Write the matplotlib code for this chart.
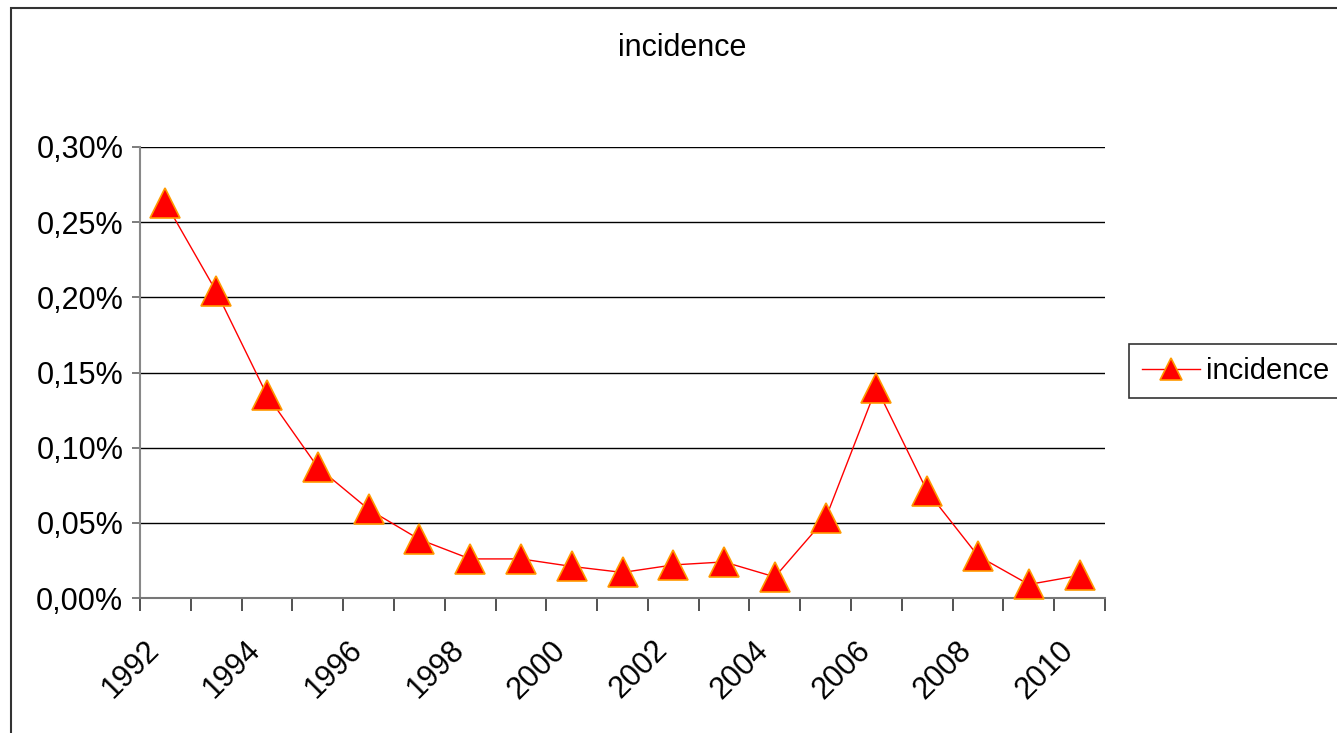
import matplotlib
matplotlib.use("Agg")
import matplotlib.pyplot as plt
from matplotlib.patches import Rectangle

plt.rcParams['font.family'] = ['Liberation Sans', 'DejaVu Sans']

# données (incidence en %)
years = list(range(1992, 2011))
incidence = [0.263, 0.204, 0.135, 0.087, 0.059, 0.039, 0.026, 0.026, 0.021,
             0.017, 0.022, 0.024, 0.014, 0.053, 0.140, 0.071, 0.028, 0.009, 0.015]
yticks = [0.00, 0.05, 0.10, 0.15, 0.20, 0.25, 0.30]

fig = plt.figure(figsize=(13.37, 7.33), dpi=100)
ax = fig.add_axes([140/1337, 1 - 598/733, (1105-140)/1337, (598-147)/733])

x = [i + 0.5 for i in range(len(years))]
ax.plot(x, incidence, color='red', lw=1, marker='^', markersize=21,
        markerfacecolor='red', markeredgecolor='#FF9900', markeredgewidth=1.2,
        label='incidence', zorder=3, clip_on=False)

ax.set_xlim(0, len(years))
ax.set_ylim(0, 0.30)

# axe y
ax.set_yticks(yticks)
ax.set_yticklabels([f"{v:.2f}%".replace('.', ',') for v in yticks], fontsize=22)
ax.yaxis.grid(True, color='black', lw=1)
ax.set_axisbelow(True)

# axe x : graduations entre les catégories, étiquettes une année sur deux
ax.set_xticks(range(len(years) + 1))
ax.set_xticklabels([])
ax.set_xticks([x[i] for i in range(0, len(years), 2)], minor=True)
ax.set_xticklabels([str(years[i]) for i in range(0, len(years), 2)], minor=True,
                   rotation=45, ha='right', va='bottom', rotation_mode='anchor',
                   fontsize=22)
ax.tick_params(axis='x', which='minor', length=0, pad=42)
ax.tick_params(axis='x', which='major', length=9, width=1.2, color='#333333')
ax.tick_params(axis='y', length=6, width=1.2, color='#666666', pad=6)

for s in ['top', 'right']:
    ax.spines[s].set_visible(False)
ax.spines['left'].set_color('#888888')
ax.spines['bottom'].set_color('#777777')
ax.spines['left'].set_linewidth(1.5)
ax.spines['bottom'].set_linewidth(1.5)

fig.text(682/1337, 1 - 48/733, 'incidence', ha='center', va='center', fontsize=22)

leg = ax.legend(loc='center left', bbox_to_anchor=(1129/1337, 1 - 371/733),
                bbox_transform=fig.transFigure, fontsize=21, frameon=True,
                fancybox=False, borderpad=0.45, handlelength=2.0,
                handletextpad=0.2, markerscale=0.75, borderaxespad=0)
leg.get_frame().set_edgecolor('black')
leg.get_frame().set_linewidth(1.2)

# cadre extérieur
fig.patches.append(Rectangle((11/1337, -0.05), 1.2, 1 - 8/733 + 0.05,
                             transform=fig.transFigure, fill=False,
                             edgecolor='#333333', lw=1.5))

fig.savefig('out.png', dpi=100)
